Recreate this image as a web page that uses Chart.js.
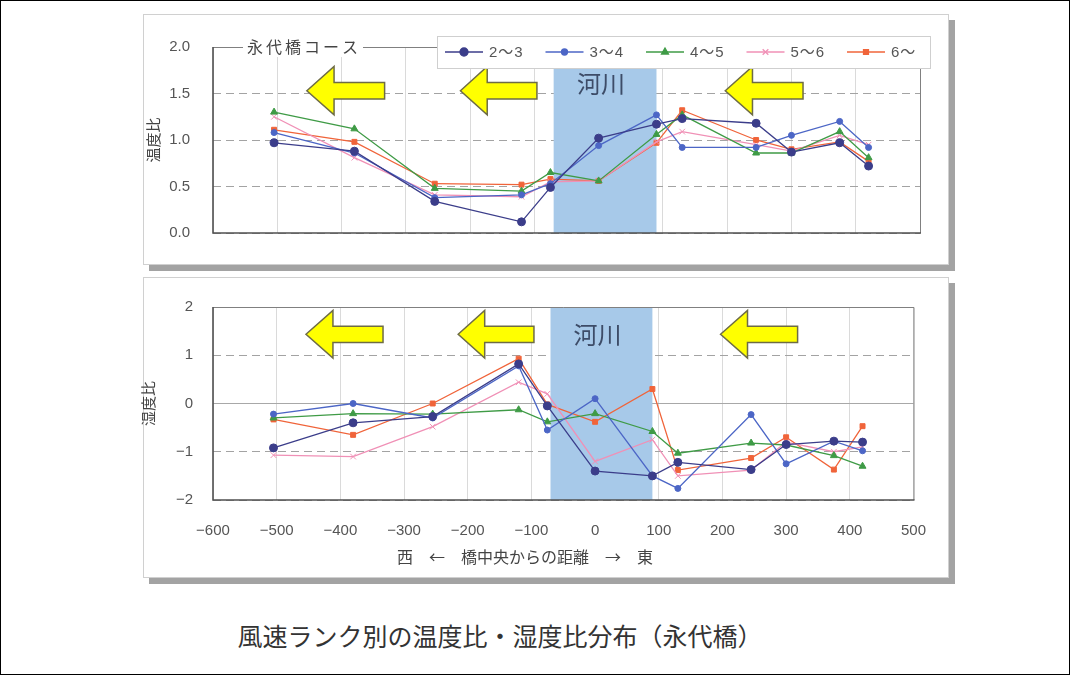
<!DOCTYPE html>
<html lang="ja">
<head>
<meta charset="utf-8">
<title>風速ランク別の温度比・湿度比分布（永代橋）</title>
<script src="https://cdn.jsdelivr.net/npm/chart.js@4.4.1/dist/chart.umd.min.js"></script>
<style>
  html, body { margin: 0; padding: 0; background: #fff; }
  body { width: 1077px; height: 675px; position: relative; overflow: hidden; font-family: "Noto Sans CJK JP", sans-serif; }
  #frame { position: absolute; left: 0; top: 0; width: 1068px; height: 673px; border: 1px solid #000; }
  .panel { position: absolute; left: 143px; width: 804px; background: #fff; border: 1px solid #d0d0d0; box-shadow: 6px 6px 0 #a3a3a3; }
  #p1 { top: 14px; height: 249px; }
  #p2 { top: 277px; height: 299px; }
  canvas { position: absolute; left: 138px; }
  #c1 { top: 15px; }
  #c2 { top: 278px; }
  #title { position: absolute; left: 0; width: 1000px; top: 617px; text-align: center; font-size: 25px; color: #333; }
</style>
</head>
<body>
<div id="frame"></div>
<div class="panel" id="p1"></div>
<div class="panel" id="p2"></div>
<canvas id="c1" width="810" height="250"></canvas>
<canvas id="c2" width="810" height="300"></canvas>
<div id="title">風速ランク別の温度比・湿度比分布（永代橋）</div>
<script>
// 橋中央からの距離 (m)
const distances = [-505, -380, -255, -120, -75, 0, 90, 130, 245, 300, 375, 420];
const rankLabels = ['2～3', '3～4', '4～5', '5～6', '6～'];

// 温度比
const temp23 = [0.97, 0.88, 0.34, 0.12, 0.49, 1.02, 1.17, 1.23, 1.18, 0.87, 0.97, 0.72];
const temp34 = [1.08, 0.86, 0.38, 0.41, 0.53, 0.94, 1.27, 0.92, 0.92, 1.05, 1.20, 0.92];
const temp45 = [1.30, 1.12, 0.48, 0.45, 0.65, 0.56, 1.06, 1.27, 0.86, 0.86, 1.09, 0.81];
const temp56 = [1.25, 0.81, 0.41, 0.39, 0.55, 0.56, 0.98, 1.09, 0.95, 0.88, 1.05, 0.95];
const temp6  = [1.11, 0.98, 0.53, 0.52, 0.58, 0.56, 0.97, 1.32, 1.00, 0.90, 0.98, 0.77];

// 湿度比
const hum23 = [-0.92, -0.40, -0.27, 0.82, -0.05, -1.40, -1.50, -1.22, -1.37, -0.85, -0.78, -0.80];
const hum34 = [-0.22, 0.00, -0.30, 0.78, -0.55, 0.10, -1.50, -1.76, -0.23, -1.25, -0.78, -0.98];
const hum45 = [-0.30, -0.21, -0.22, -0.13, -0.38, -0.21, -0.58, -1.03, -0.82, -0.86, -1.08, -1.30];
const hum56 = [-1.07, -1.10, -0.48, 0.44, 0.20, -1.20, -0.75, -1.50, -1.38, -0.80, -1.00, -0.90];
const hum6  = [-0.33, -0.65, 0.00, 0.93, -0.02, -0.38, 0.30, -1.38, -1.13, -0.70, -1.37, -0.47];

const xTicks = [-600, -500, -400, -300, -200, -100, 0, 100, 200, 300, 400, 500];
const tempTicks = [0, 0.5, 1.0, 1.5, 2.0];
const humTicks = [-2, -1, 0, 1, 2];
const river = [-70, 90]; // 河川の範囲

const looks = [
  {color: '#3b3d8a', style: 'circle', r: 4},
  {color: '#4c66c6', style: 'circle', r: 3},
  {color: '#3f9b46', style: 'triangle', r: 4},
  {color: '#f090b6', style: 'crossRot', r: 4},
  {color: '#f0643a', style: 'rect', r: 3.5}
];

const numFont = {family: '"Liberation Sans", Arial, sans-serif', size: 15};
const jpFont = '"Noto Sans CJK JP", sans-serif';

// 左向きの黄色い矢印
function arrow(ctx, x1, x2, yt, yb) {
  const h = yb - yt, cy = (yt + yb) / 2, head = (x2 - x1) * 0.35, sh = h * 0.17;
  ctx.beginPath();
  ctx.moveTo(x1, cy);
  ctx.lineTo(x1 + head, yt);
  ctx.lineTo(x1 + head, cy - sh);
  ctx.lineTo(x2, cy - sh);
  ctx.lineTo(x2, cy + sh);
  ctx.lineTo(x1 + head, cy + sh);
  ctx.lineTo(x1 + head, yb);
  ctx.closePath();
  ctx.fillStyle = '#ffff00';
  ctx.fill();
  ctx.strokeStyle = '#6e6c45';
  ctx.lineWidth = 1.5;
  ctx.stroke();
}

function decor(cfg) {
  return {
    id: 'decor',
    beforeDatasetsDraw(chart) {
      const {ctx, chartArea: a, scales: {x, y}} = chart;
      ctx.save();
      if (cfg.zeroLine) {
        const y0 = y.getPixelForValue(0);
        ctx.strokeStyle = '#a8a8a8'; ctx.lineWidth = 1;
        ctx.beginPath(); ctx.moveTo(a.left, y0); ctx.lineTo(a.right, y0); ctx.stroke();
      }
      const l = x.getPixelForValue(river[0]), r = x.getPixelForValue(river[1]);
      ctx.fillStyle = '#a7c9e9';
      ctx.fillRect(l, a.top, r - l, a.bottom - a.top);
      ctx.fillStyle = '#3d4c68';
      ctx.font = '24px ' + jpFont;
      ctx.textAlign = 'center'; ctx.textBaseline = 'middle';
      ctx.fillText('河川', (l + r) / 2 - 4, y.getPixelForValue(cfg.riverY));
      [[-454, -333], [-215, -96], [197, 318]].forEach(([s, e]) => {
        arrow(ctx, x.getPixelForValue(s), x.getPixelForValue(e),
          y.getPixelForValue(cfg.arrowY[0]), y.getPixelForValue(cfg.arrowY[1]));
      });
      ctx.restore();
    },
    afterDraw(chart) {
      const {ctx, chartArea: a, scales: {x}} = chart;
      ctx.save();
      // 枠
      ctx.strokeStyle = '#808080'; ctx.lineWidth = 1;
      ctx.beginPath();
      ctx.moveTo(a.left, a.top + 0.5); ctx.lineTo(a.right + 0.5, a.top + 0.5); ctx.lineTo(a.right + 0.5, a.bottom);
      ctx.stroke();
      ctx.strokeStyle = '#505050'; ctx.lineWidth = 1.6;
      ctx.beginPath();
      ctx.moveTo(a.left, a.top); ctx.lineTo(a.left, a.bottom); ctx.lineTo(a.right + 1, a.bottom);
      ctx.stroke();

      if (cfg.legend) {
        // コース名
        ctx.font = '16px ' + jpFont;
        ctx.letterSpacing = '3px';
        const t = '永代橋コース', w = ctx.measureText(t).width, cx = a.left + 90;
        ctx.fillStyle = '#fff';
        ctx.fillRect(cx - w / 2 - 3, a.top - 10, w + 6, 20);
        ctx.fillStyle = '#444'; ctx.textAlign = 'center'; ctx.textBaseline = 'middle';
        ctx.fillText(t, cx + 1, a.top);
        ctx.letterSpacing = '1px';

        // 凡例
        const lx = a.left + 224, ly = a.top - 11, lw = 493, lh = 32;
        ctx.fillStyle = '#fff'; ctx.fillRect(lx, ly, lw, lh);
        ctx.strokeStyle = '#cfcfcf'; ctx.lineWidth = 1;
        ctx.strokeRect(lx + 0.5, ly + 0.5, lw, lh);
        chart.data.datasets.forEach((ds, i) => {
          const sx = lx + 8 + i * 100.5, cy = ly + lh / 2;
          ctx.strokeStyle = ds.borderColor; ctx.lineWidth = 1.3;
          ctx.beginPath(); ctx.moveTo(sx, cy); ctx.lineTo(sx + 38, cy); ctx.stroke();
          ctx.fillStyle = ds.backgroundColor;
          Chart.helpers.drawPoint(ctx, {pointStyle: ds.pointStyle, radius: ds.pointRadius, borderWidth: 1, rotation: 0}, sx + 19, cy);
          ctx.fillStyle = '#555';
          ctx.font = '15px "Liberation Sans", ' + jpFont;
          ctx.textAlign = 'left';
          ctx.fillText(ds.label, sx + 44, cy + 1);
        });
      }
      if (cfg.xTitle) {
        ctx.font = '16px ' + jpFont;
        ctx.fillStyle = '#444'; ctx.textAlign = 'center'; ctx.textBaseline = 'middle';
        ctx.fillText(cfg.xTitle, x.getPixelForValue(-110), a.bottom + 57);
      }
      ctx.restore();
    }
  };
}

function makeChart(id, series, ticks, cfg) {
  return new Chart(document.getElementById(id), {
    type: 'line',
    data: {
      datasets: series.map((vals, i) => ({
        label: rankLabels[i],
        data: vals.map((v, j) => ({x: distances[j], y: v})),
        borderColor: looks[i].color,
        backgroundColor: looks[i].color,
        pointStyle: looks[i].style,
        pointRadius: looks[i].r,
        pointBorderWidth: 1,
        borderWidth: 1.3,
        tension: 0
      }))
    },
    options: {
      responsive: false,
      animation: false,
      layout: {padding: cfg.padding},
      plugins: {legend: {display: false}, tooltip: {enabled: false}},
      scales: {
        x: {
          type: 'linear', min: -600, max: 500,
          afterBuildTicks: s => { s.ticks = xTicks.map(v => ({value: v})); },
          afterFit: s => { s.height = cfg.xHeight; },
          grid: {color: '#dadada', drawTicks: false},
          border: {display: false},
          ticks: {display: cfg.xLabels, padding: 22, font: numFont, color: '#555',
                  callback: v => String(v).replace('-', '−')}
        },
        y: {
          min: ticks[0], max: ticks[ticks.length - 1],
          afterBuildTicks: s => { s.ticks = ticks.map(v => ({value: v})); },
          afterFit: s => { s.width = 75; },
          grid: {color: '#a3a3a3', drawTicks: false},
          border: {display: false, dash: [8, 5]},
          ticks: {padding: cfg.yPad, font: numFont, color: '#555', callback: cfg.yFormat},
          title: {display: true, text: cfg.yTitle, color: '#444',
                  font: {family: jpFont, size: 15}, padding: {top: cfg.titlePad, bottom: 0}}
        }
      }
    },
    plugins: [decor(cfg)]
  });
}

makeChart('c1', [temp23, temp34, temp45, temp56, temp6], tempTicks, {
  padding: {left: 0, right: 28, top: 19, bottom: 17},
  xHeight: 0, xLabels: false, yPad: 23, titlePad: 6,
  yFormat: v => v.toFixed(1), yTitle: '温度比',
  riverY: 1.6, arrowY: [1.79, 1.27], legend: true
});

makeChart('c2', [hum23, hum34, hum45, hum56, hum6], humTicks, {
  padding: {left: 0, right: 28, top: 10, bottom: 0},
  xHeight: 78, xLabels: true, yPad: 20, titlePad: 1,
  yFormat: v => String(v).replace('-', '−'), yTitle: '湿度比',
  riverY: 1.42, arrowY: [1.93, 0.94], zeroLine: true,
  xTitle: '西　←　橋中央からの距離　→　東'
});
</script>
</body>
</html>
